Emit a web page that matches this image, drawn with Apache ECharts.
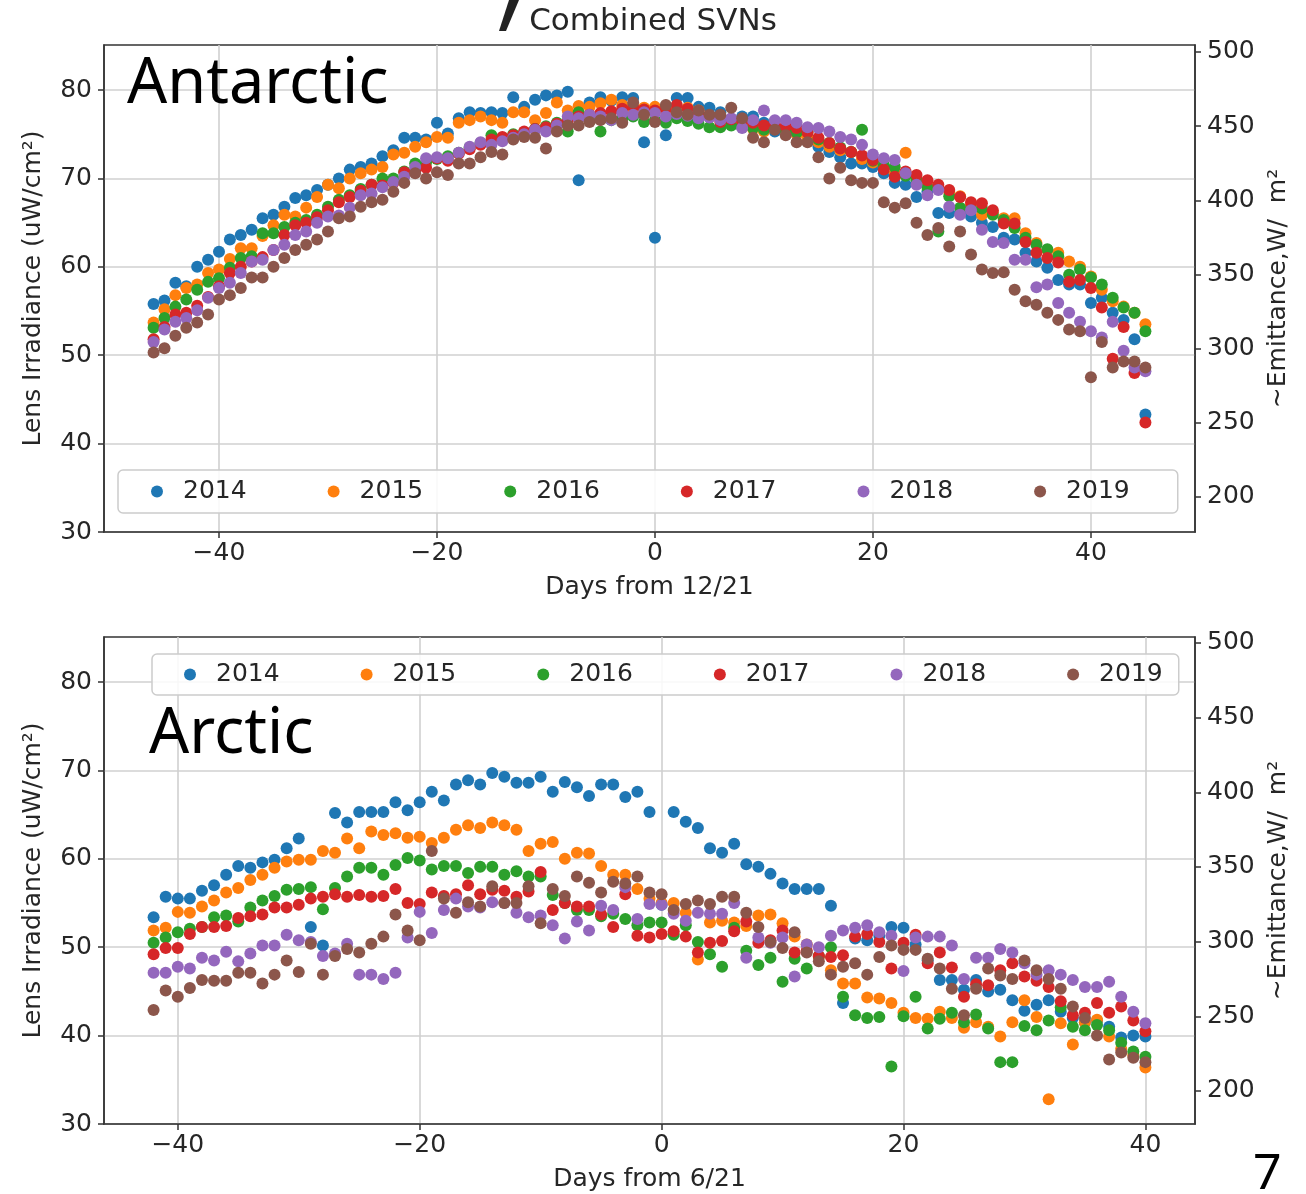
<!DOCTYPE html>
<html>
<head>
<meta charset="utf-8">
<script src="https://cdn.jsdelivr.net/npm/echarts@6/dist/echarts.min.js"></script>
<style>html,body{margin:0;padding:0;background:#fff}#c{width:1306px;height:1194px}</style>
</head>
<body>
<div id="c"></div>
<script>
// ---------- DATA ----------
const years = ['2014', '2015', '2016', '2017', '2018', '2019'];
const colors = ['#1f77b4', '#ff7f0e', '#2ca02c', '#d62728', '#9467bd', '#8c564b'];

// Antarctic: days from 12/21
const daysAnt = [-46,-45,-44,-43,-42,-41,-40,-39,-38,-37,-36,-35,-34,-33,-32,-31,-30,-29,-28,-27,-26,-25,-24,-23,-22,-21,-20,-19,-18,-17,-16,-15,-14,-13,-12,-11,-10,-9,-8,-7,-6,-5,-4,-3,-2,-1,0,1,2,3,4,5,6,7,8,9,10,11,12,13,14,15,16,17,18,19,20,21,22,23,24,25,26,27,28,29,30,31,32,33,34,35,36,37,38,39,40,41,42,43,44,45];
const ant2014 = [55.8,56.2,58.2,57.8,60.0,60.8,61.7,63.1,63.6,64.2,65.5,65.9,66.8,67.8,68.1,68.7,69.3,70.0,71.0,71.3,71.7,72.5,73.2,74.6,74.6,74.4,76.3,75.1,76.8,77.5,77.4,77.5,77.4,79.2,78.1,78.9,79.4,79.4,79.8,69.8,78.6,79.2,78.8,79.2,79.1,74.1,63.3,74.9,79.1,79.1,78.1,78.0,77.5,76.4,77.0,77.0,76.3,75.3,75.5,75.3,74.8,73.6,73.0,72.4,71.7,71.7,71.3,70.6,69.5,69.3,67.9,68.5,66.1,66.1,66.0,65.7,65.0,64.5,63.3,63.1,61.6,60.6,59.9,58.5,58.0,58.0,55.9,56.5,54.8,54.0,51.8,43.3];
const ant2015 = [53.7,55.2,56.8,57.6,58.0,59.3,59.7,60.9,62.1,62.1,63.5,64.7,65.9,65.7,66.7,67.9,69.3,68.9,70.0,70.6,71.0,71.3,72.7,72.9,73.6,74.1,74.7,74.6,76.3,76.6,77.0,76.6,76.3,77.5,77.5,76.6,77.4,78.6,77.7,78.2,78.1,78.5,78.9,78.3,77.8,78.0,78.1,77.6,77.8,78.0,77.7,77.0,76.8,76.6,76.3,75.6,75.3,75.8,75.5,75.0,74.6,74.1,73.6,73.2,73.0,72.2,71.8,71.2,70.6,72.9,70.0,69.5,69.0,68.5,68.0,67.0,65.9,66.2,65.5,65.5,63.8,62.7,61.9,61.6,60.6,60.0,58.9,57.4,56.1,55.5,54.8,53.5];
const ant2016 = [53.1,54.2,55.5,56.3,57.4,58.3,58.7,59.9,61.0,61.2,63.8,63.8,64.5,65.0,65.3,65.9,66.8,67.6,68.1,68.8,69.3,70.0,70.0,70.8,71.7,71.8,72.2,72.5,72.9,73.5,74.0,74.9,74.6,75.0,75.2,75.6,75.9,76.3,75.3,77.5,76.5,75.3,76.6,76.8,77.0,76.4,76.6,76.3,76.8,76.5,76.2,75.8,75.8,76.0,75.8,75.7,75.5,75.6,75.4,75.2,75.3,74.4,74.0,73.5,73.0,75.5,72.0,71.5,71.3,70.3,69.8,69.0,64.0,68.0,66.7,66.5,66.6,65.9,65.3,64.4,63.3,62.5,62.0,61.2,59.1,59.7,58.8,58.0,56.5,55.4,54.8,52.7];
const ant2017 = [51.8,53.2,54.6,54.8,55.6,56.6,57.8,59.3,60.0,60.6,61.1,61.9,63.6,64.7,65.0,65.6,66.4,67.3,67.9,68.6,69.3,69.2,69.5,70.7,70.9,71.2,72.3,72.0,72.8,73.3,73.8,74.4,74.7,74.9,75.3,75.6,75.8,76.2,76.5,77.0,77.2,77.4,77.6,77.9,78.1,77.8,77.7,77.9,78.3,77.9,77.5,77.0,76.4,76.7,76.5,76.3,76.0,76.1,75.9,75.7,75.2,74.6,74.0,73.4,73.0,72.6,72.1,71.0,70.2,70.8,70.4,69.8,69.3,68.7,67.9,67.3,67.2,66.4,64.9,64.9,62.8,61.6,61.0,60.5,58.3,58.5,57.6,55.4,49.6,53.2,48.0,42.4];
const ant2018 = [51.5,52.9,53.8,54.2,55.1,56.5,57.6,58.2,59.3,60.6,60.8,61.9,62.5,63.6,64.0,65.0,65.7,65.8,66.7,68.1,68.3,69.0,69.6,70.2,71.3,72.3,72.4,72.3,72.9,73.6,74.1,73.8,74.2,74.6,75.0,75.5,75.3,76.0,77.0,76.8,77.2,77.0,76.6,77.4,77.2,77.5,77.4,77.0,77.3,77.1,76.8,76.9,76.6,76.8,75.7,76.6,77.7,76.6,76.6,76.3,75.8,75.7,75.3,74.7,74.4,73.8,72.7,72.3,72.1,70.6,69.3,68.1,68.7,66.8,65.9,66.4,64.2,62.8,62.7,60.8,60.8,57.7,58.0,55.9,54.8,53.8,52.7,52.0,53.8,50.5,48.6,48.2];
const ant2019 = [50.3,50.8,52.2,53.1,53.7,54.6,56.3,56.8,57.6,58.8,58.8,60.0,61.0,61.9,62.5,63.1,64.0,65.5,65.7,66.8,67.3,67.6,68.5,69.5,70.6,70.0,70.7,70.4,71.7,71.7,72.4,73.0,72.7,74.4,74.7,74.6,73.4,75.3,76.0,76.0,76.4,76.6,76.8,76.3,78.6,77.2,76.4,78.3,77.5,77.2,77.7,77.2,77.2,78.0,76.8,74.6,74.1,75.5,74.9,74.1,74.1,72.4,70.0,71.2,69.8,69.5,69.5,67.3,66.7,67.2,65.0,63.6,64.4,62.3,64.0,61.4,59.7,59.3,59.4,57.4,56.1,55.7,54.8,54.0,52.9,52.7,47.5,51.5,48.6,49.3,49.3,48.6];

// Arctic: days from 6/21
const daysArc = [-42,-41,-40,-39,-38,-37,-36,-35,-34,-33,-32,-31,-30,-29,-28,-27,-26,-25,-24,-23,-22,-21,-20,-19,-18,-17,-16,-15,-14,-13,-12,-11,-10,-9,-8,-7,-6,-5,-4,-3,-2,-1,0,1,2,3,4,5,6,7,8,9,10,11,12,13,14,15,16,17,18,19,20,21,22,23,24,25,26,27,28,29,30,31,32,33,34,35,36,37,38,39,40];
const arc2014 = [53.4,55.7,55.5,55.5,56.4,57.0,58.2,59.2,59.0,59.6,59.9,61.2,62.3,52.3,50.2,65.2,64.1,65.3,65.3,65.3,66.4,65.5,66.4,67.6,66.6,68.4,68.9,68.4,69.7,69.3,68.6,68.6,69.3,67.6,68.7,68.1,67.1,68.4,68.4,67.0,67.6,65.3,54.8,65.3,64.2,63.5,61.2,60.7,61.7,59.4,59.1,58.3,57.2,56.6,56.6,56.6,54.7,43.7,51.0,50.8,51.3,52.3,52.2,50.3,48.5,46.3,46.3,45.2,46.3,45.0,45.2,44.0,42.8,43.5,44.0,42.7,42.0,41.5,41.7,41.0,39.8,40.0,39.9];
const arc2015 = [51.9,52.2,54.0,53.9,54.6,55.3,56.2,56.7,57.6,58.2,59.0,59.7,59.9,59.9,60.9,60.7,62.3,61.2,63.1,62.7,62.9,62.4,62.5,61.8,62.4,63.3,63.8,63.5,64.1,63.8,63.3,60.9,61.7,61.9,60.0,60.7,60.6,59.2,58.2,58.2,56.6,55.5,55.0,55.0,53.9,48.6,52.8,53.0,52.8,52.4,53.6,53.7,52.7,51.2,50.3,48.9,47.4,45.9,45.9,44.3,44.2,43.7,42.6,42.0,41.9,42.7,42.0,40.9,41.5,41.0,39.9,41.5,44.0,42.1,32.8,41.4,39.0,41.5,41.8,39.9,38.5,37.8,36.4];
const arc2016 = [50.5,51.1,51.7,52.1,52.3,53.4,53.6,52.9,54.5,55.3,55.8,56.5,56.6,56.8,54.3,56.7,58.0,59.0,59.0,58.2,59.3,60.1,59.8,58.8,59.2,59.2,58.4,59.1,59.1,58.2,58.6,58.0,58.0,55.9,55.0,54.2,54.2,53.5,53.8,53.2,52.5,52.8,52.8,51.4,52.5,50.6,49.2,47.8,52.2,49.6,48.0,48.8,46.1,48.7,47.6,49.0,50.0,44.4,42.3,42.0,42.1,36.5,42.2,44.4,40.8,41.9,42.6,41.5,42.4,40.8,37.0,37.0,41.1,40.6,41.7,43.2,41.0,40.6,41.2,40.6,39.2,38.2,37.6];
const arc2017 = [49.2,49.9,49.9,51.5,52.3,52.3,52.4,53.3,53.5,53.7,54.5,54.5,54.8,55.5,55.7,56.0,55.7,55.9,55.7,55.8,56.6,55.0,54.9,56.2,55.8,56.0,57.0,56.0,56.5,56.4,55.7,56.3,58.5,54.2,55.0,54.6,54.6,53.7,52.3,56.0,51.3,51.1,51.5,51.8,51.2,49.4,50.5,50.7,51.8,52.9,50.5,50.8,51.9,49.4,49.6,49.0,48.9,49.1,51.2,51.5,50.6,47.6,50.5,51.4,48.2,49.4,47.7,44.4,45.8,45.7,47.4,48.2,46.7,46.2,45.5,43.9,42.3,42.6,43.7,42.6,43.3,41.7,40.5];
const arc2018 = [47.1,47.1,47.8,47.6,48.8,48.5,49.5,48.4,49.3,50.2,50.2,51.4,50.8,50.6,49.0,49.3,50.4,46.9,46.9,46.4,47.1,51.1,54.0,51.6,54.2,55.5,54.6,54.5,55.1,55.0,53.9,53.4,53.6,52.5,51.0,52.9,51.9,54.7,54.2,56.8,53.2,54.9,54.8,53.8,53.0,53.9,53.8,53.8,55.0,48.8,51.1,50.5,51.1,46.7,50.3,50.0,51.3,51.9,52.2,52.5,51.7,51.3,47.3,51.1,51.2,51.2,50.2,46.4,48.8,48.8,49.8,49.4,48.2,46.9,47.4,46.9,46.3,45.5,45.5,46.1,44.4,42.7,41.4];
const arc2019 = [42.9,45.1,44.4,45.4,46.3,46.2,46.2,47.1,47.1,45.9,46.9,48.5,47.2,50.4,46.9,49.0,49.8,49.4,50.4,51.2,53.7,51.9,50.8,60.9,55.5,53.9,55.1,54.6,56.9,55.0,55.0,56.9,52.7,56.6,55.8,58.0,57.3,56.2,57.4,57.2,58.0,56.2,56.0,54.2,54.9,55.3,54.9,55.7,55.7,53.9,52.3,50.6,49.9,51.7,49.4,48.4,46.9,47.8,48.2,46.9,48.9,50.2,49.7,49.7,48.7,47.6,45.3,42.3,45.3,47.6,46.8,46.4,48.5,47.4,46.4,45.3,43.3,42.0,40.0,37.3,38.1,37.5,37.0];

// Axis tick labels
const xTicks = [-40, -20, 0, 20, 40];
const yTicks = [30, 40, 50, 60, 70, 80];
const y2Ticks = [200, 250, 300, 350, 400, 450, 500];

const antSeries = [ant2014, ant2015, ant2016, ant2017, ant2018, ant2019];
const arcSeries = [arc2014, arc2015, arc2016, arc2017, arc2018, arc2019];

// ---------- CHART ----------
const FONT = 'DejaVu Sans';
const TXT = '#262626';
const fmtMinus = v => (v < 0 ? '\u2212' + Math.abs(v) : String(v));

function xAx(grid, name, min, max) {
  return {
    type: 'value', gridIndex: grid, min: min, max: max,
    name: name, nameLocation: 'middle', nameGap: 43,
    nameTextStyle: { fontFamily: FONT, fontSize: 25, color: TXT },
    axisLine: { show: true, onZero: false, lineStyle: { color: '#333', width: 1.5 } },
    axisTick: { show: true, length: 6, customValues: xTicks, lineStyle: { color: '#333', width: 1.5 } },
    axisLabel: { customValues: xTicks, formatter: fmtMinus, margin: 9, fontFamily: FONT, fontSize: 25, color: TXT },
    splitLine: { show: true, lineStyle: { color: '#d0d0d0', width: 1.6 } }
  };
}
function yAx(grid) {
  return {
    type: 'value', gridIndex: grid, min: 30, max: 85.1, position: 'left',
    name: 'Lens Irradiance (uW/cm\u00b2)', nameLocation: 'middle', nameGap: 58, nameRotate: 90,
    nameTextStyle: { fontFamily: FONT, fontSize: 25, color: TXT },
    axisLine: { show: true, onZero: false, lineStyle: { color: '#333', width: 1.5 } },
    axisTick: { show: true, length: 6, customValues: yTicks, lineStyle: { color: '#333', width: 1.5 } },
    axisLabel: { customValues: yTicks, margin: 12, fontFamily: FONT, fontSize: 25, color: TXT },
    splitLine: { show: true, lineStyle: { color: '#d0d0d0', width: 1.6 } }
  };
}
function y2Ax(grid, min, max) {
  return {
    type: 'value', gridIndex: grid, min: min, max: max, position: 'right',
    name: '~Emittance,W/  m\u00b2', nameLocation: 'middle', nameGap: 67, nameRotate: 90,
    nameTextStyle: { fontFamily: FONT, fontSize: 25, color: TXT },
    axisLine: { show: true, onZero: false, lineStyle: { color: '#333', width: 1.5 } },
    axisTick: { show: true, length: 6, customValues: y2Ticks, lineStyle: { color: '#333', width: 1.5 } },
    axisLabel: { customValues: y2Ticks, margin: 12, fontFamily: FONT, fontSize: 25, color: TXT },
    splitLine: { show: false }
  };
}
function legend(top, left, pad) {
  return {
    top: top, left: left, orient: 'horizontal', icon: 'circle',
    itemWidth: 12, itemHeight: 12, itemGap: 81,
    padding: pad,
    backgroundColor: 'rgba(255,255,255,0.85)',
    borderColor: '#cccccc', borderWidth: 1.5, borderRadius: 5,
    textStyle: { fontFamily: FONT, fontSize: 25, color: TXT, padding: [0, 0, 0, 15] },
    data: years
  };
}

const series = [];
years.forEach((y, i) => {
  series.push({
    name: y, type: 'scatter', xAxisIndex: 0, yAxisIndex: 0,
    symbolSize: 12, itemStyle: { color: colors[i], opacity: 1 },
    data: daysAnt.map((d, k) => [d, antSeries[i][k]])
  });
});
years.forEach((y, i) => {
  series.push({
    name: y, type: 'scatter', xAxisIndex: 1, yAxisIndex: 2,
    symbolSize: 12, itemStyle: { color: colors[i], opacity: 1 },
    data: daysArc.map((d, k) => [d, arcSeries[i][k]])
  });
});

const chart = echarts.init(document.getElementById('c'), null, { renderer: 'canvas' });
chart.setOption({
  animation: false,
  backgroundColor: '#ffffff',
  grid: [
    { left: 104, right: 111, top: 45, height: 487, show: true, borderColor: '#333', borderWidth: 1.5 },
    { left: 104, right: 111, top: 637, height: 487, show: true, borderColor: '#333', borderWidth: 1.5 }
  ],
  xAxis: [xAx(0, 'Days from 12/21', -50.55, 49.55), xAx(1, 'Days from 6/21', -46.1, 44.1)],
  yAxis: [yAx(0), y2Ax(0, 176.4, 504.7), yAx(1), y2Ax(1, 177.9, 504.0)],
  legend: [legend(470, 118, [9, 48, 9, 33]), legend(654, 152, [8, 16, 8, 32])],
  series: series,
  graphic: [
    { type: 'text', left: 'center', top: 6, style: { text: 'Combined SVNs', font: '31px "DejaVu Sans"', fill: TXT } },
    { type: 'polygon', shape: { points: [[509, 0], [519, 0], [506, 31], [499, 31]] }, style: { fill: '#222' } },
    { type: 'text', left: 127, top: 54, z: 100, style: { text: 'Antarctic', font: '63px "Noto Sans"', fill: '#000' } },
    { type: 'text', left: 149, top: 704, z: 100, style: { text: 'Arctic', font: '63px "Noto Sans"', fill: '#000' } },
    { type: 'text', left: 1253, top: 1150, style: { text: '7', font: '50px "Noto Sans"', fill: '#000' } }
  ]
});
</script>
</body>
</html>
